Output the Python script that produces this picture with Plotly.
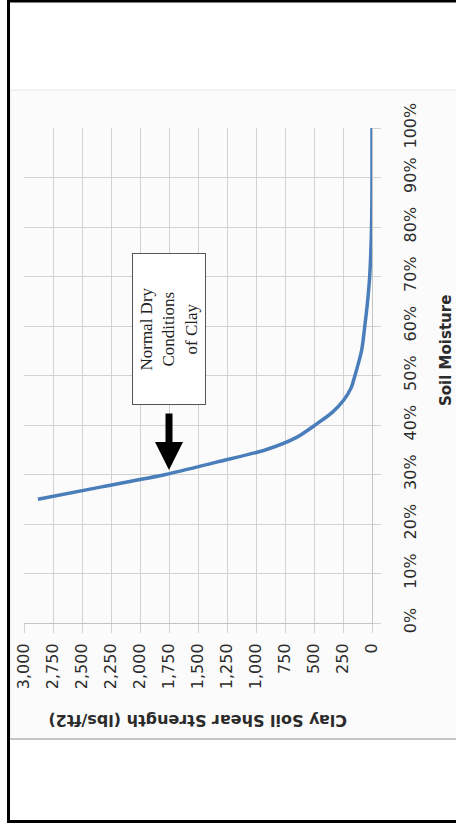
import plotly.graph_objects as go

# ---- data ----
soil_moisture = [0.25, 0.275, 0.30, 0.325, 0.35, 0.375, 0.40, 0.425, 0.45, 0.475,
                 0.50, 0.55, 0.60, 0.65, 0.70, 0.80, 0.90, 1.00]
shear_strength = [2880, 2330, 1780, 1340, 915, 650, 490, 345, 245, 180,
                  147, 90, 62, 38, 20, 4, 0, 0]
strength_ticks = [0, 250, 500, 750, 1000, 1250, 1500, 1750, 2000, 2250, 2500, 2750, 3000]
moisture_ticks = [0, 0.1, 0.2, 0.3, 0.4, 0.5, 0.6, 0.7, 0.8, 0.9, 1.0]
title_strength = "Clay Soil Shear Strength (lbs/ft2)"
title_moisture = "Soil Moisture"
note_text = "Normal Dry<br>Conditions<br>of Clay"

# ---- layout geometry (pixels) ----
W, H = 456, 825
PL, PR, PT, PB = 24, 372, 128, 623


def fx(px):
    return (px - PL) / (PR - PL)


def fy(py):
    return (PB - py) / (PB - PT)


GRID = "#d2d2d2"
TICKFONT = dict(family="DejaVu Sans", size=16, color="#2b2b2b")

fig = go.Figure()
fig.add_trace(go.Scatter(
    x=shear_strength, y=soil_moisture, mode="lines",
    line=dict(color="#4a7ebb", width=3.5, shape="spline", smoothing=0.8),
    hoverinfo="skip", showlegend=False,
))

fig.update_layout(
    width=W, height=H,
    margin=dict(l=PL, r=W - PR, t=PT, b=H - PB, pad=0),
    paper_bgcolor="white",
    plot_bgcolor="rgba(0,0,0,0)",
    showlegend=False,
    xaxis=dict(
        range=[3000, 0], tickvals=strength_ticks, tickformat=",",
        tickangle=-90, tickfont=TICKFONT,
        showgrid=True, gridcolor=GRID, gridwidth=1,
        ticks="outside", ticklen=9, tickcolor=GRID,
        showline=True, linecolor="#c4c4c4", linewidth=1,
        zeroline=False, ticklabelstandoff=4,
    ),
    yaxis=dict(
        range=[0, 1], tickvals=moisture_ticks, tickformat=".0%",
        side="right", tickangle=-90, tickfont=TICKFONT,
        showgrid=True, gridcolor=GRID, gridwidth=1,
        ticks="outside", ticklen=8, tickcolor=GRID,
        showline=True, linecolor="#c4c4c4", linewidth=1,
        zeroline=False, ticklabelstandoff=16,
    ),
    shapes=[
        # chart area
        dict(type="rect", xref="paper", yref="paper", layer="below",
             x0=fx(10), x1=fx(480), y0=fy(739), y1=fy(90),
             fillcolor="#fbfbfb", line=dict(color="#e6e6e6", width=1)),
        dict(type="line", xref="paper", yref="paper",
             x0=fx(10), x1=fx(480), y0=fy(739), y1=fy(739),
             line=dict(color="#c6c6c6", width=2)),
        # outer frame
        dict(type="rect", xref="paper", yref="paper",
             x0=fx(8.5), x1=fx(480), y0=fy(821.5), y1=fy(1),
             line=dict(color="black", width=3)),
    ],
    annotations=[
        dict(text="<b>" + title_strength + "</b>", xref="paper", yref="paper",
             x=fx(198), y=fy(721), showarrow=False, textangle=180,
             xanchor="center", yanchor="middle",
             font=dict(family="DejaVu Sans", size=16, color="#2b2b2b")),
        dict(text="<b>" + title_moisture + "</b>", xref="paper", yref="paper",
             x=fx(446), y=fy(351), showarrow=False, textangle=-90,
             xanchor="center", yanchor="middle",
             font=dict(family="DejaVu Sans", size=15, color="#2b2b2b")),
        dict(text=note_text, xref="paper", yref="paper",
             x=fx(169), y=fy(329), showarrow=False, textangle=-90,
             xanchor="center", yanchor="middle", align="center",
             width=150, height=72, borderpad=0, borderwidth=1,
             bordercolor="#555555", bgcolor="white",
             font=dict(family="Liberation Serif", size=17, color="#222222")),
        dict(text="", xref="paper", yref="paper",
             x=fx(169), y=fy(470), ax=0, ay=-58, axref="pixel", ayref="pixel",
             showarrow=True, arrowhead=2, arrowsize=0.8, arrowwidth=7,
             arrowcolor="black", standoff=0),
    ],
)

fig.write_html("out.html", config={"displayModeBar": False},
               post_script="document.body.style.margin='0';")
